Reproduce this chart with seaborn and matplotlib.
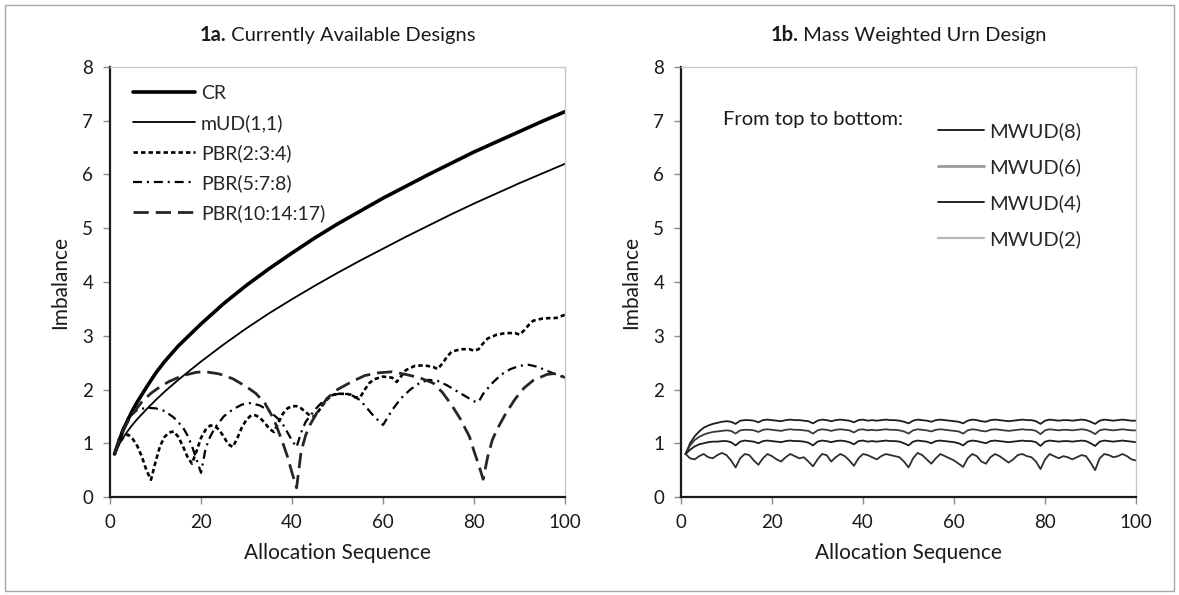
import numpy as np
import pandas as pd
import matplotlib
matplotlib.use("Agg")
import matplotlib.pyplot as plt
from matplotlib.lines import Line2D
from matplotlib.patches import Rectangle
import seaborn as sns

# ---------------- data ----------------
cr_x = [1, 2, 3, 4, 5, 6, 8, 10, 12, 15, 20, 25, 30, 35, 40, 45, 50, 55, 60, 65, 70, 75, 80, 85, 90, 95, 100]
cr_y = [0.80, 1.05, 1.27, 1.45, 1.62, 1.77, 2.04, 2.30, 2.52, 2.81, 3.22, 3.60, 3.94, 4.25, 4.54, 4.82, 5.08, 5.32, 5.56, 5.78, 6.00, 6.21, 6.42, 6.61, 6.80, 6.99, 7.17]

mud_x = [1, 2, 3, 4, 5, 6, 8, 10, 12, 15, 20, 25, 30, 35, 40, 45, 50, 55, 60, 65, 70, 75, 80, 85, 90, 95, 100]
mud_y = [0.80, 0.98, 1.12, 1.24, 1.35, 1.45, 1.63, 1.80, 1.96, 2.18, 2.52, 2.84, 3.14, 3.42, 3.68, 3.93, 4.17, 4.40, 4.62, 4.84, 5.05, 5.26, 5.46, 5.65, 5.84, 6.02, 6.20]

pbr234_x = [1, 2, 3, 4, 5, 6, 7, 8, 9, 10, 11, 12, 13, 14, 15, 16, 17, 18, 19, 20,
            21, 22, 23, 24, 25, 26, 27, 28, 29, 30, 31, 32, 33, 34, 35, 36, 37, 38, 39, 40,
            41, 42, 43, 44, 45, 46, 47, 48, 49, 50, 52, 53, 54, 55, 56, 57, 58, 60, 62, 63,
            64, 65, 67, 69, 71, 72, 73, 74, 75, 77, 79, 80, 81, 82, 83, 85, 87, 89, 90, 91,
            92, 93, 95, 97, 98, 99, 100]
pbr234_y = [0.80, 1.00, 1.12, 1.16, 1.08, 0.95, 0.75, 0.50, 0.32, 0.65, 0.95, 1.12, 1.20, 1.22, 1.12, 0.95, 0.75, 0.62, 0.85, 1.10,
            1.25, 1.33, 1.32, 1.25, 1.12, 0.98, 0.93, 1.10, 1.30, 1.44, 1.52, 1.52, 1.47, 1.38, 1.27, 1.21, 1.38, 1.55, 1.65, 1.69,
            1.69, 1.65, 1.58, 1.51, 1.50, 1.62, 1.74, 1.84, 1.90, 1.92, 1.92, 1.90, 1.85, 1.86, 2.00, 2.12, 2.19, 2.24, 2.22, 2.14,
            2.25, 2.36, 2.44, 2.45, 2.42, 2.38, 2.48, 2.60, 2.70, 2.75, 2.75, 2.72, 2.75, 2.86, 2.95, 3.02, 3.05, 3.05, 3.02, 3.10,
            3.20, 3.28, 3.32, 3.33, 3.33, 3.36, 3.39]

pbr578_x = [1, 2, 3, 4, 5, 6, 8, 10, 12, 14, 16, 17, 18, 19, 20, 21, 22, 23, 25, 27,
            29, 31, 33, 35, 37, 38, 39, 40, 41, 42, 43, 45, 47, 49, 51, 53, 55, 57, 58, 60,
            61, 62, 64, 66, 68, 70, 72, 74, 76, 78, 80, 81, 82, 84, 86, 88, 90, 92, 94, 96,
            98, 100]
pbr578_y = [0.80, 1.10, 1.30, 1.45, 1.55, 1.62, 1.66, 1.65, 1.60, 1.48, 1.30, 1.15, 0.95, 0.70, 0.45, 0.90, 1.12, 1.28, 1.50, 1.63,
            1.72, 1.75, 1.70, 1.60, 1.45, 1.35, 1.20, 1.05, 0.93, 1.20, 1.40, 1.62, 1.80, 1.90, 1.93, 1.90, 1.80, 1.60, 1.50, 1.34,
            1.48, 1.62, 1.84, 2.00, 2.12, 2.18, 2.16, 2.08, 1.98, 1.88, 1.78, 1.77, 1.92, 2.12, 2.28, 2.38, 2.44, 2.46, 2.42, 2.35,
            2.28, 2.22]

pbr101417_x = [1, 2, 3, 4, 5, 7, 9, 11, 13, 16, 19, 21, 24, 27, 30, 32, 34, 36, 38, 39,
               40, 41, 42, 43, 44, 46, 48, 50, 53, 56, 59, 62, 65, 68, 71, 73, 75, 77, 79, 80,
               81, 82, 83, 84, 85, 87, 89, 91, 93, 96, 98, 100]
pbr101417_y = [0.80, 1.05, 1.25, 1.42, 1.55, 1.77, 1.93, 2.05, 2.15, 2.26, 2.32, 2.33, 2.29, 2.20, 2.05, 1.93, 1.75, 1.45, 1.00, 0.75,
               0.45, 0.17, 0.85, 1.15, 1.35, 1.65, 1.86, 2.00, 2.14, 2.26, 2.31, 2.33, 2.28, 2.22, 2.12, 1.95, 1.72, 1.45, 1.12, 0.85,
               0.60, 0.33, 0.75, 1.06, 1.25, 1.56, 1.82, 2.03, 2.17, 2.28, 2.30, 2.22]

seq = list(range(1, 101))
mwud8 = [0.80, 1.00, 1.13, 1.22, 1.29, 1.33, 1.36, 1.38, 1.40, 1.41,
         1.40, 1.36, 1.42, 1.43, 1.43, 1.42, 1.39, 1.43, 1.44, 1.43,
         1.42, 1.41, 1.43, 1.44, 1.43, 1.43, 1.42, 1.41, 1.37, 1.42,
         1.44, 1.43, 1.41, 1.43, 1.44, 1.43, 1.42, 1.39, 1.43, 1.44,
         1.42, 1.43, 1.42, 1.43, 1.44, 1.43, 1.43, 1.42, 1.40, 1.37,
         1.42, 1.44, 1.43, 1.42, 1.40, 1.43, 1.44, 1.43, 1.42, 1.41,
         1.40, 1.37, 1.42, 1.44, 1.43, 1.41, 1.40, 1.43, 1.44, 1.43,
         1.42, 1.41, 1.42, 1.43, 1.44, 1.43, 1.43, 1.41, 1.36, 1.42,
         1.44, 1.43, 1.42, 1.43, 1.43, 1.42, 1.43, 1.44, 1.43, 1.40,
         1.36, 1.42, 1.44, 1.43, 1.42, 1.43, 1.44, 1.43, 1.42, 1.42]
mwud6 = [0.80, 0.96, 1.06, 1.12, 1.16, 1.19, 1.21, 1.22, 1.23, 1.24,
         1.23, 1.18, 1.24, 1.25, 1.25, 1.24, 1.21, 1.25, 1.26, 1.25,
         1.24, 1.23, 1.25, 1.26, 1.25, 1.25, 1.24, 1.23, 1.18, 1.24,
         1.26, 1.25, 1.23, 1.25, 1.26, 1.25, 1.24, 1.20, 1.25, 1.26,
         1.24, 1.25, 1.24, 1.25, 1.26, 1.25, 1.25, 1.24, 1.22, 1.18,
         1.24, 1.26, 1.25, 1.24, 1.22, 1.25, 1.26, 1.25, 1.24, 1.23,
         1.22, 1.18, 1.24, 1.26, 1.25, 1.23, 1.22, 1.25, 1.26, 1.25,
         1.24, 1.23, 1.24, 1.25, 1.26, 1.25, 1.25, 1.23, 1.17, 1.24,
         1.26, 1.25, 1.24, 1.25, 1.25, 1.24, 1.25, 1.26, 1.25, 1.22,
         1.17, 1.24, 1.26, 1.25, 1.24, 1.25, 1.26, 1.25, 1.24, 1.24]
mwud4 = [0.80, 0.88, 0.94, 0.98, 1.00, 1.02, 1.03, 1.03, 1.04, 1.04,
         1.02, 0.96, 1.03, 1.05, 1.04, 1.03, 1.00, 1.04, 1.05, 1.04,
         1.03, 1.02, 1.04, 1.05, 1.04, 1.04, 1.03, 1.01, 0.96, 1.03,
         1.05, 1.04, 1.02, 1.04, 1.05, 1.04, 1.02, 0.98, 1.04, 1.05,
         1.03, 1.04, 1.03, 1.04, 1.05, 1.04, 1.04, 1.03, 1.00, 0.96,
         1.03, 1.05, 1.04, 1.03, 1.00, 1.04, 1.05, 1.04, 1.03, 1.02,
         1.00, 0.96, 1.03, 1.05, 1.04, 1.02, 1.00, 1.04, 1.05, 1.04,
         1.03, 1.02, 1.03, 1.04, 1.05, 1.04, 1.04, 1.02, 0.95, 1.03,
         1.05, 1.04, 1.03, 1.04, 1.04, 1.03, 1.04, 1.05, 1.04, 1.00,
         0.95, 1.03, 1.05, 1.04, 1.03, 1.04, 1.05, 1.04, 1.03, 1.02]
mwud2 = [0.80, 0.72, 0.70, 0.76, 0.80, 0.74, 0.72, 0.78, 0.82, 0.78,
         0.68, 0.55, 0.72, 0.80, 0.78, 0.68, 0.60, 0.72, 0.80, 0.76,
         0.70, 0.66, 0.74, 0.80, 0.76, 0.72, 0.74, 0.66, 0.57, 0.70,
         0.80, 0.78, 0.66, 0.74, 0.80, 0.76, 0.68, 0.58, 0.72, 0.80,
         0.78, 0.74, 0.70, 0.76, 0.80, 0.78, 0.76, 0.74, 0.66, 0.55,
         0.72, 0.82, 0.78, 0.70, 0.62, 0.72, 0.80, 0.76, 0.72, 0.68,
         0.62, 0.56, 0.72, 0.80, 0.76, 0.66, 0.62, 0.74, 0.80, 0.76,
         0.70, 0.64, 0.70, 0.78, 0.80, 0.76, 0.74, 0.66, 0.52, 0.70,
         0.80, 0.76, 0.72, 0.76, 0.74, 0.70, 0.74, 0.78, 0.76, 0.64,
         0.50, 0.72, 0.80, 0.78, 0.74, 0.76, 0.80, 0.76, 0.70, 0.68]

x_ticks = [0, 20, 40, 60, 80, 100]
y_ticks = [0, 1, 2, 3, 4, 5, 6, 7, 8]

# ---------------- style ----------------
sns.set_theme(style="ticks")
FONT = ["Lato", "DejaVu Sans"]
plt.rcParams["font.family"] = FONT
plt.rcParams["lines.scale_dashes"] = False

TXT = "#1a1a1a"
fig = plt.figure(figsize=(11.79, 5.95), dpi=100)
fig.patch.set_facecolor("white")
fig.patches.append(Rectangle((0.004, 0.006), 0.992, 0.986, transform=fig.transFigure,
                             fill=False, edgecolor="#a6a6a6", linewidth=1.0))

axL = fig.add_axes([0.0933, 0.1647, 0.386, 0.7227])
axR = fig.add_axes([0.5776, 0.1647, 0.386, 0.7227])

# ---------------- left panel ----------------
lk = dict(ax=axL, estimator=None, sort=False)
sns.lineplot(x=cr_x, y=cr_y, color="black", linewidth=2.6, label="CR", **lk)
sns.lineplot(x=mud_x, y=mud_y, color="black", linewidth=1.3, label="mUD(1,1)", **lk)
sns.lineplot(x=pbr234_x, y=pbr234_y, color="black", linewidth=1.9,
             linestyle=(0, (3.2, 2.2)), label="PBR(2:3:4)", **lk)
sns.lineplot(x=pbr578_x, y=pbr578_y, color="black", linewidth=1.6,
             linestyle=(0, (6.5, 3.5, 1.5, 3.5)), label="PBR(5:7:8)", **lk)
sns.lineplot(x=pbr101417_x, y=pbr101417_y, color="#262626", linewidth=2.0,
             linestyle=(0, (11, 5)), label="PBR(10:14:17)", **lk)

axL.legend(loc="upper left", bbox_to_anchor=(0.025, 0.985), frameon=False,
           fontsize=14, handlelength=3.2, labelspacing=0.62, handletextpad=0.3,
           borderaxespad=0.2)

# ---------------- right panel ----------------
rk = dict(ax=axR, estimator=None, sort=False)
sns.lineplot(x=seq, y=mwud8, color="#1c1c1c", linewidth=1.3, **rk)
sns.lineplot(x=seq, y=mwud6, color="#3a3a3a", linewidth=1.3, **rk)
sns.lineplot(x=seq, y=mwud4, color="#1c1c1c", linewidth=1.3, **rk)
sns.lineplot(x=seq, y=mwud2, color="#2e2e2e", linewidth=1.3, **rk)

handles = [Line2D([], [], color="#111111", lw=1.3),
           Line2D([], [], color="#9a9a9a", lw=2.0),
           Line2D([], [], color="#111111", lw=1.3),
           Line2D([], [], color="#b8b8b8", lw=1.6)]
axR.legend(handles, ["MWUD(8)", "MWUD(6)", "MWUD(4)", "MWUD(2)"], loc="upper left",
           bbox_to_anchor=(0.547, 0.89), frameon=False, fontsize=14.5,
           handlelength=2.3, labelspacing=0.9, handletextpad=0.25, borderaxespad=0.0)
axR.text(0.093, 0.878, "From top to bottom:", transform=axR.transAxes, fontsize=14.5,
         ha="left", va="center", color=TXT)

# ---------------- axes styling ----------------
for ax in (axL, axR):
    ax.set_xlim(0, 100)
    ax.set_ylim(0, 8)
    ax.set_xticks(x_ticks)
    ax.set_yticks(y_ticks)
    ax.set_xlabel("Allocation Sequence", fontsize=15, labelpad=9, color=TXT)
    ax.set_ylabel("Imbalance", fontsize=15, labelpad=9, color=TXT)
    ax.tick_params(axis="both", labelsize=13.5, colors=TXT, length=5, width=1.0,
                   direction="out", pad=7)
    ax.tick_params(axis="x", color="#8c8c8c")
    ax.tick_params(axis="y", color="#8c8c8c")
    for s in ("left", "bottom"):
        ax.spines[s].set_visible(True)
        ax.spines[s].set_color(TXT)
        ax.spines[s].set_linewidth(1.6)
    for s in ("top", "right"):
        ax.spines[s].set_visible(True)
        ax.spines[s].set_color("#c8c8c8")
        ax.spines[s].set_linewidth(1.0)
    ax.set_facecolor("white")
    ax.grid(False)

# ---------------- two-part titles (bold number + regular text), centred ----------------
fig.canvas.draw()
renderer = fig.canvas.get_renderer()
for ax, num, rest in ((axL, "1a.", " Currently Available Designs"),
                      (axR, "1b.", " Mass Weighted Urn Design")):
    t1 = fig.text(0, 0, num, fontsize=14.5, fontweight="bold", color=TXT)
    t2 = fig.text(0, 0, rest, fontsize=14.5, color=TXT)
    w1 = t1.get_window_extent(renderer).width
    w2 = t2.get_window_extent(renderer).width
    bb = ax.get_window_extent(renderer)
    cx = (bb.x0 + bb.x1) / 2.0
    x0 = cx - (w1 + w2) / 2.0
    ybase = bb.y1 + 26
    W, H = fig.bbox.width, fig.bbox.height
    t1.set_position((x0 / W, ybase / H))
    t2.set_position(((x0 + w1) / W, ybase / H))

fig.savefig("out.png", dpi=100, facecolor="white")
